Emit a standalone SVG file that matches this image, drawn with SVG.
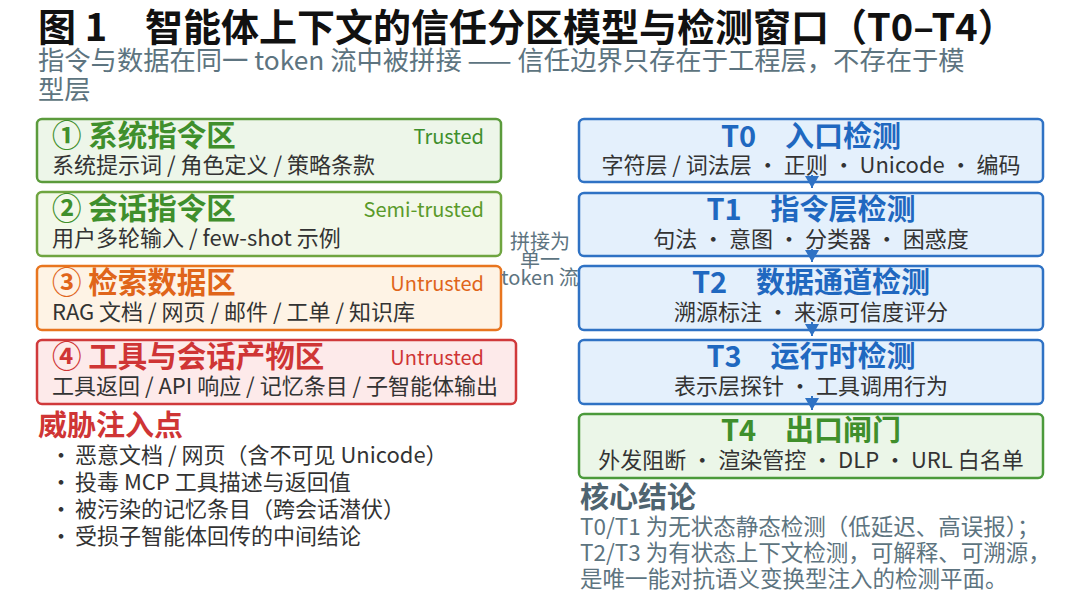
<svg xmlns="http://www.w3.org/2000/svg" width="1080" height="605" viewBox="0 0 1080 605">
<defs>
<style>
text{font-family:"Noto Sans CJK SC","Noto Sans",sans-serif;}
.ttl{font-size:38px;font-weight:700;fill:#111;}
.sub{font-size:26.3px;fill:#5d7480;}
.bt{font-size:29.5px;font-weight:700;}
.ht{font-size:29px;font-weight:700;}
.bs{font-size:22px;fill:#333;}
.tr{font-size:20px;text-anchor:end;}
.rt{font-size:29px;font-weight:700;text-anchor:middle;}
.rs{font-size:22px;fill:#333;text-anchor:middle;}
.g1{fill:#edf6e9;stroke:#5b9b3c;stroke-width:2.5;}
.g2{fill:#f2f8e9;stroke:#6fa540;stroke-width:2.5;}
.o{fill:#fef3e5;stroke:#e8751f;stroke-width:2.5;}
.r{fill:#fdeaea;stroke:#d0393b;stroke-width:2.5;}
.b{fill:#e4f0fc;stroke:#2f72c4;stroke-width:2.5;}
.gg{fill:#ebf6e8;stroke:#4b9a3b;stroke-width:2.5;}
.cg{fill:#3f8f2c;}
.cg2{fill:#5a9a2a;}
.co{fill:#e0651a;}
.cr{fill:#cf3535;}
.cb{fill:#1f68c0;}
.mid{font-size:20px;fill:#5d7480;text-anchor:middle;}
.bl{font-size:22px;fill:#333;}
.cc{font-size:22.5px;fill:#5d7480;}
.con{stroke:#2f72c4;stroke-width:2;fill:none;}
</style>
<marker id="ah" viewBox="0 0 12 14" refX="12" refY="7" markerWidth="12" markerHeight="14" markerUnits="userSpaceOnUse" orient="auto">
<path d="M0,0 L12,7 L0,14 z" fill="#2f72c4"/>
</marker>
</defs>
<rect width="1080" height="605" fill="#ffffff"/>
<g id="title">
<text class="ttl" x="38" y="41">图 1　智能体上下文的信任分区模型与检测窗口（T0–T4）</text>
<text class="sub" x="38" y="70">指令与数据在同一 token 流中被拼接 —— 信任边界只存在于工程层，不存在于模</text>
<text class="sub" x="38" y="99">型层</text>
</g>
<g id="zone1">
<rect class="g1" x="37" y="119" width="464" height="63" rx="5"/>
<text class="bt cg" x="52" y="146">① 系统指令区</text>
<text class="tr cg" x="484" y="144">Trusted</text>
<text class="bs" x="52" y="173">系统提示词 / 角色定义 / 策略条款</text>
</g>
<g id="zone2">
<rect class="g2" x="37" y="192" width="464" height="64" rx="5"/>
<text class="bt cg" x="52" y="219">② 会话指令区</text>
<text class="tr cg2" x="484" y="217">Semi-trusted</text>
<text class="bs" x="52" y="246">用户多轮输入 / few-shot 示例</text>
</g>
<g id="zone3">
<rect class="o" x="37" y="266" width="464" height="64" rx="5"/>
<text class="bt co" x="52" y="293">③ 检索数据区</text>
<text class="tr co" x="484" y="291">Untrusted</text>
<text class="bs" x="52" y="320">RAG 文档 / 网页 / 邮件 / 工单 / 知识库</text>
</g>
<g id="zone4">
<rect class="r" x="37" y="340" width="479" height="64" rx="5"/>
<text class="bt cr" x="52" y="367">④ 工具与会话产物区</text>
<text class="tr cr" x="484" y="365">Untrusted</text>
<text class="bs" x="52" y="394">工具返回 / API 响应 / 记忆条目 / 子智能体输出</text>
</g>
<g id="concat-label">
<text class="mid" x="540" y="249">拼接为</text>
<text class="mid" x="540" y="267">单一</text>
<text class="mid" x="540" y="285">token 流</text>
</g>
<g id="t0">
<rect class="b" x="579" y="119" width="464" height="63" rx="5"/>
<text class="rt cb" x="811" y="147">T0　入口检测</text>
<text class="rs" x="811" y="173">字符层 / 词法层 · 正则 · Unicode · 编码</text>
</g>
<g id="t1">
<rect class="b" x="579" y="193" width="464" height="63" rx="5"/>
<text class="rt cb" x="811" y="220">T1　指令层检测</text>
<text class="rs" x="811" y="247">句法 · 意图 · 分类器 · 困惑度</text>
</g>
<g id="t2">
<rect class="b" x="579" y="266" width="464" height="64" rx="5"/>
<text class="rt cb" x="811" y="293">T2　数据通道检测</text>
<text class="rs" x="811" y="320">溯源标注 · 来源可信度评分</text>
</g>
<g id="t3">
<rect class="b" x="579" y="340" width="464" height="64" rx="5"/>
<text class="rt cb" x="811" y="367">T3　运行时检测</text>
<text class="rs" x="811" y="394">表示层探针 · 工具调用行为</text>
</g>
<g id="t4">
<rect class="gg" x="579" y="414" width="464" height="64" rx="5"/>
<text class="rt cg" x="811" y="441">T4　出口闸门</text>
<text class="rs" x="811" y="468">外发阻断 · 渲染管控 · DLP · URL 白名单</text>
</g>
<g id="connectors">
<line class="con" x1="812" y1="175" x2="812" y2="188" marker-end="url(#ah)"/>
<line class="con" x1="812" y1="249" x2="812" y2="262" marker-end="url(#ah)"/>
<line class="con" x1="812" y1="322" x2="812" y2="336" marker-end="url(#ah)"/>
<line class="con" x1="812" y1="396" x2="812" y2="410" marker-end="url(#ah)"/>
</g>
<g id="threats">
<text class="ht cr" x="38" y="436">威胁注入点</text>
<text class="bl" x="50" y="463">·</text>
<text class="bl" x="75" y="463">恶意文档 / 网页（含不可见 Unicode）</text>
<text class="bl" x="50" y="490">·</text>
<text class="bl" x="75" y="490">投毒 MCP 工具描述与返回值</text>
<text class="bl" x="50" y="517">·</text>
<text class="bl" x="75" y="517">被污染的记忆条目（跨会话潜伏）</text>
<text class="bl" x="50" y="544">·</text>
<text class="bl" x="75" y="544">受损子智能体回传的中间结论</text>
</g>
<g id="conclusion">
<text class="ht" x="580" y="508" fill="#4f6470">核心结论</text>
<text class="cc" x="580" y="535">T0/T1 为无状态静态检测（低延迟、高误报）；</text>
<text class="cc" x="580" y="561">T2/T3 为有状态上下文检测，可解释、可溯源，</text>
<text class="cc" x="580" y="587">是唯一能对抗语义变换型注入的检测平面。</text>
</g>
</svg>
